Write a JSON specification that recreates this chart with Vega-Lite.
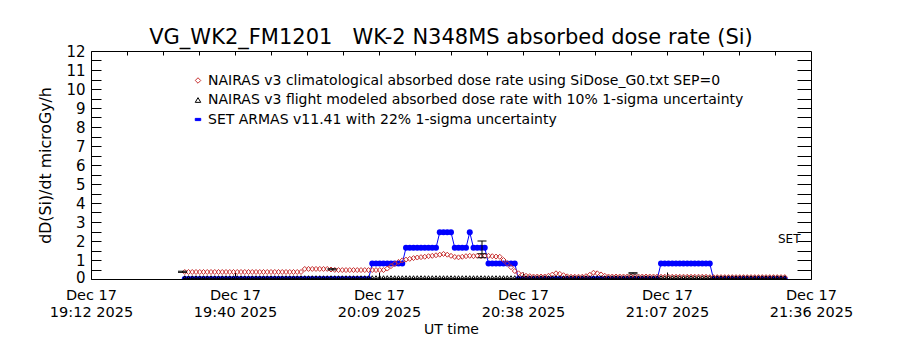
{
  "$schema": "https://vega.github.io/schema/vega-lite/v6.json",
  "width": 720,
  "height": 228,
  "autosize": {"type": "none"},
  "padding": {"left": 91, "top": 51, "right": 89, "bottom": 71},
  "background": "white",
  "config": {
    "font": "DejaVu Sans",
    "view": {"stroke": "black", "strokeWidth": 1},
    "axis": {"domain": false, "grid": false, "tickColor": "black", "tickWidth": 1, "labelColor": "black", "titleColor": "black", "titleFontWeight": "normal", "labelFont": "DejaVu Sans", "titleFont": "DejaVu Sans"}
  },
  "title": {"text": "VG_WK2_FM1201\u00a0\u00a0\u00a0WK-2 N348MS absorbed dose rate (Si)", "fontSize": 21, "fontWeight": "normal", "font": "DejaVu Sans", "color": "black", "offset": -4},
  "datasets": {
    "main": [
      {"t":"2025-12-17T19:30:45Z","c":0.37,"s":0,"f":0.1},
      {"t":"2025-12-17T19:31:30Z","c":0.37,"s":0,"f":0.1},
      {"t":"2025-12-17T19:32:15Z","c":0.37,"s":0,"f":0.1},
      {"t":"2025-12-17T19:33:00Z","c":0.37,"s":0,"f":0.1},
      {"t":"2025-12-17T19:33:45Z","c":0.37,"s":0,"f":0.1},
      {"t":"2025-12-17T19:34:30Z","c":0.37,"s":0,"f":0.1},
      {"t":"2025-12-17T19:35:15Z","c":0.37,"s":0,"f":0.1},
      {"t":"2025-12-17T19:36:00Z","c":0.37,"s":0,"f":0.1},
      {"t":"2025-12-17T19:36:45Z","c":0.37,"s":0,"f":0.1},
      {"t":"2025-12-17T19:37:30Z","c":0.37,"s":0,"f":0.1},
      {"t":"2025-12-17T19:38:15Z","c":0.37,"s":0,"f":0.1},
      {"t":"2025-12-17T19:39:00Z","c":0.37,"s":0,"f":0.1},
      {"t":"2025-12-17T19:39:45Z","c":0.37,"s":0,"f":0.1},
      {"t":"2025-12-17T19:40:30Z","c":0.37,"s":0,"f":0.1},
      {"t":"2025-12-17T19:41:15Z","c":0.37,"s":0,"f":0.1},
      {"t":"2025-12-17T19:42:00Z","c":0.37,"s":0,"f":0.1},
      {"t":"2025-12-17T19:42:45Z","c":0.37,"s":0,"f":0.1},
      {"t":"2025-12-17T19:43:30Z","c":0.37,"s":0,"f":0.1},
      {"t":"2025-12-17T19:44:15Z","c":0.37,"s":0,"f":0.1},
      {"t":"2025-12-17T19:45:00Z","c":0.37,"s":0,"f":0.1},
      {"t":"2025-12-17T19:45:45Z","c":0.37,"s":0,"f":0.1},
      {"t":"2025-12-17T19:46:30Z","c":0.37,"s":0,"f":0.1},
      {"t":"2025-12-17T19:47:15Z","c":0.37,"s":0,"f":0.1},
      {"t":"2025-12-17T19:48:00Z","c":0.37,"s":0,"f":0.1},
      {"t":"2025-12-17T19:48:45Z","c":0.37,"s":0,"f":0.1},
      {"t":"2025-12-17T19:49:30Z","c":0.37,"s":0,"f":0.1},
      {"t":"2025-12-17T19:50:15Z","c":0.37,"s":0,"f":0.1},
      {"t":"2025-12-17T19:51:00Z","c":0.37,"s":0,"f":0.1},
      {"t":"2025-12-17T19:51:45Z","c":0.37,"s":0,"f":0.1},
      {"t":"2025-12-17T19:52:30Z","c":0.37,"s":0,"f":0.1},
      {"t":"2025-12-17T19:53:15Z","c":0.37,"s":0,"f":0.1},
      {"t":"2025-12-17T19:54:00Z","c":0.37,"s":0,"f":0.1},
      {"t":"2025-12-17T19:54:45Z","c":0.53,"s":0,"f":0.1},
      {"t":"2025-12-17T19:55:30Z","c":0.53,"s":0,"f":0.1},
      {"t":"2025-12-17T19:56:15Z","c":0.53,"s":0,"f":0.1},
      {"t":"2025-12-17T19:57:00Z","c":0.53,"s":0,"f":0.1},
      {"t":"2025-12-17T19:57:45Z","c":0.53,"s":0,"f":0.1},
      {"t":"2025-12-17T19:58:30Z","c":0.53,"s":0,"f":0.1},
      {"t":"2025-12-17T19:59:15Z","c":0.53,"s":0,"f":0.1},
      {"t":"2025-12-17T20:00:00Z","c":0.5,"s":0,"f":0.1},
      {"t":"2025-12-17T20:00:45Z","c":0.48,"s":0,"f":0.1},
      {"t":"2025-12-17T20:01:30Z","c":0.47,"s":0,"f":0.1},
      {"t":"2025-12-17T20:02:15Z","c":0.47,"s":0,"f":0.1},
      {"t":"2025-12-17T20:03:00Z","c":0.47,"s":0,"f":0.1},
      {"t":"2025-12-17T20:03:45Z","c":0.47,"s":0,"f":0.1},
      {"t":"2025-12-17T20:04:30Z","c":0.47,"s":0,"f":0.1},
      {"t":"2025-12-17T20:05:15Z","c":0.47,"s":0,"f":0.1},
      {"t":"2025-12-17T20:06:00Z","c":0.47,"s":0,"f":0.1},
      {"t":"2025-12-17T20:06:45Z","c":0.47,"s":0,"f":0.1},
      {"t":"2025-12-17T20:07:30Z","c":0.47,"s":0,"f":0.1},
      {"t":"2025-12-17T20:08:15Z","c":0.47,"s":0.82,"f":0.1},
      {"t":"2025-12-17T20:09:00Z","c":0.47,"s":0.82,"f":0.1},
      {"t":"2025-12-17T20:09:45Z","c":0.47,"s":0.82,"f":0.1},
      {"t":"2025-12-17T20:10:30Z","c":0.47,"s":0.82,"f":0.1},
      {"t":"2025-12-17T20:11:15Z","c":0.55,"s":0.82,"f":0.1},
      {"t":"2025-12-17T20:12:00Z","c":0.68,"s":0.82,"f":0.1},
      {"t":"2025-12-17T20:12:45Z","c":0.8,"s":0.82,"f":0.1},
      {"t":"2025-12-17T20:13:30Z","c":0.9,"s":0.82,"f":0.1},
      {"t":"2025-12-17T20:14:15Z","c":0.98,"s":0.82,"f":0.1},
      {"t":"2025-12-17T20:15:00Z","c":1.02,"s":1.64,"f":0.1},
      {"t":"2025-12-17T20:15:45Z","c":1.06,"s":1.64,"f":0.1},
      {"t":"2025-12-17T20:16:30Z","c":1.1,"s":1.64,"f":0.1},
      {"t":"2025-12-17T20:17:15Z","c":1.13,"s":1.64,"f":0.1},
      {"t":"2025-12-17T20:18:00Z","c":1.15,"s":1.64,"f":0.1},
      {"t":"2025-12-17T20:18:45Z","c":1.17,"s":1.64,"f":0.1},
      {"t":"2025-12-17T20:19:30Z","c":1.2,"s":1.64,"f":0.1},
      {"t":"2025-12-17T20:20:15Z","c":1.22,"s":1.64,"f":0.1},
      {"t":"2025-12-17T20:21:00Z","c":1.25,"s":1.64,"f":0.1},
      {"t":"2025-12-17T20:21:45Z","c":1.28,"s":2.46,"f":0.1},
      {"t":"2025-12-17T20:22:30Z","c":1.32,"s":2.46,"f":0.1},
      {"t":"2025-12-17T20:23:15Z","c":1.28,"s":2.46,"f":0.1},
      {"t":"2025-12-17T20:24:00Z","c":1.22,"s":2.46,"f":0.1},
      {"t":"2025-12-17T20:24:45Z","c":1.16,"s":1.64,"f":0.1},
      {"t":"2025-12-17T20:25:30Z","c":1.14,"s":1.64,"f":0.1},
      {"t":"2025-12-17T20:26:15Z","c":1.17,"s":1.64,"f":0.1},
      {"t":"2025-12-17T20:27:00Z","c":1.2,"s":1.64,"f":0.1},
      {"t":"2025-12-17T20:27:45Z","c":1.22,"s":2.46,"f":0.1},
      {"t":"2025-12-17T20:28:30Z","c":1.2,"s":1.64,"f":0.1},
      {"t":"2025-12-17T20:29:15Z","c":1.22,"s":1.64,"f":0.1},
      {"t":"2025-12-17T20:30:00Z","c":1.2,"s":1.64,"f":0.1},
      {"t":"2025-12-17T20:30:45Z","c":1.22,"s":1.64,"f":0.1},
      {"t":"2025-12-17T20:31:30Z","c":1.22,"s":0.82,"f":0.1},
      {"t":"2025-12-17T20:32:15Z","c":1.2,"s":0.82,"f":0.1},
      {"t":"2025-12-17T20:33:00Z","c":1.18,"s":0.82,"f":0.1},
      {"t":"2025-12-17T20:33:45Z","c":1.17,"s":0.82,"f":0.1},
      {"t":"2025-12-17T20:34:30Z","c":1.0,"s":0.82,"f":0.1},
      {"t":"2025-12-17T20:35:15Z","c":0.82,"s":0.82,"f":0.1},
      {"t":"2025-12-17T20:36:00Z","c":0.62,"s":0.82,"f":0.1},
      {"t":"2025-12-17T20:36:45Z","c":0.42,"s":0.82,"f":0.1},
      {"t":"2025-12-17T20:37:30Z","c":0.3,"s":0,"f":0.1},
      {"t":"2025-12-17T20:38:15Z","c":0.22,"s":0,"f":0.1},
      {"t":"2025-12-17T20:39:00Z","c":0.17,"s":0,"f":0.1},
      {"t":"2025-12-17T20:39:45Z","c":0.15,"s":0,"f":0.1},
      {"t":"2025-12-17T20:40:30Z","c":0.13,"s":0,"f":0.1},
      {"t":"2025-12-17T20:41:15Z","c":0.13,"s":0,"f":0.1},
      {"t":"2025-12-17T20:42:00Z","c":0.13,"s":0,"f":0.1},
      {"t":"2025-12-17T20:42:45Z","c":0.13,"s":0,"f":0.1},
      {"t":"2025-12-17T20:43:30Z","c":0.17,"s":0,"f":0.1},
      {"t":"2025-12-17T20:44:15Z","c":0.23,"s":0,"f":0.1},
      {"t":"2025-12-17T20:45:00Z","c":0.3,"s":0,"f":0.1},
      {"t":"2025-12-17T20:45:45Z","c":0.27,"s":0,"f":0.1},
      {"t":"2025-12-17T20:46:30Z","c":0.2,"s":0,"f":0.1},
      {"t":"2025-12-17T20:47:15Z","c":0.14,"s":0,"f":0.1},
      {"t":"2025-12-17T20:48:00Z","c":0.12,"s":0,"f":0.1},
      {"t":"2025-12-17T20:48:45Z","c":0.12,"s":0,"f":0.1},
      {"t":"2025-12-17T20:49:30Z","c":0.12,"s":0,"f":0.1},
      {"t":"2025-12-17T20:50:15Z","c":0.12,"s":0,"f":0.1},
      {"t":"2025-12-17T20:51:00Z","c":0.15,"s":0,"f":0.1},
      {"t":"2025-12-17T20:51:45Z","c":0.22,"s":0,"f":0.1},
      {"t":"2025-12-17T20:52:30Z","c":0.33,"s":0,"f":0.1},
      {"t":"2025-12-17T20:53:15Z","c":0.3,"s":0,"f":0.1},
      {"t":"2025-12-17T20:54:00Z","c":0.24,"s":0,"f":0.1},
      {"t":"2025-12-17T20:54:45Z","c":0.17,"s":0,"f":0.1},
      {"t":"2025-12-17T20:55:30Z","c":0.13,"s":0,"f":0.1},
      {"t":"2025-12-17T20:56:15Z","c":0.13,"s":0,"f":0.1},
      {"t":"2025-12-17T20:57:00Z","c":0.13,"s":0,"f":0.1},
      {"t":"2025-12-17T20:57:45Z","c":0.13,"s":0,"f":0.1},
      {"t":"2025-12-17T20:58:30Z","c":0.13,"s":0,"f":0.1},
      {"t":"2025-12-17T20:59:15Z","c":0.13,"s":0,"f":0.1},
      {"t":"2025-12-17T21:00:00Z","c":0.13,"s":0,"f":0.1},
      {"t":"2025-12-17T21:00:45Z","c":0.13,"s":0,"f":0.1},
      {"t":"2025-12-17T21:01:30Z","c":0.13,"s":0,"f":0.1},
      {"t":"2025-12-17T21:02:15Z","c":0.13,"s":0,"f":0.1},
      {"t":"2025-12-17T21:03:00Z","c":0.13,"s":0,"f":0.1},
      {"t":"2025-12-17T21:03:45Z","c":0.13,"s":0,"f":0.1},
      {"t":"2025-12-17T21:04:30Z","c":0.13,"s":0,"f":0.1},
      {"t":"2025-12-17T21:05:15Z","c":0.13,"s":0,"f":0.1},
      {"t":"2025-12-17T21:06:00Z","c":0.12,"s":0.82,"f":0.1},
      {"t":"2025-12-17T21:06:45Z","c":0.12,"s":0.82,"f":0.1},
      {"t":"2025-12-17T21:07:30Z","c":0.12,"s":0.82,"f":0.1},
      {"t":"2025-12-17T21:08:15Z","c":0.12,"s":0.82,"f":0.1},
      {"t":"2025-12-17T21:09:00Z","c":0.12,"s":0.82,"f":0.1},
      {"t":"2025-12-17T21:09:45Z","c":0.12,"s":0.82,"f":0.1},
      {"t":"2025-12-17T21:10:30Z","c":0.12,"s":0.82,"f":0.1},
      {"t":"2025-12-17T21:11:15Z","c":0.12,"s":0.82,"f":0.1},
      {"t":"2025-12-17T21:12:00Z","c":0.12,"s":0.82,"f":0.1},
      {"t":"2025-12-17T21:12:45Z","c":0.12,"s":0.82,"f":0.1},
      {"t":"2025-12-17T21:13:30Z","c":0.12,"s":0.82,"f":0.1},
      {"t":"2025-12-17T21:14:15Z","c":0.12,"s":0.82,"f":0.1},
      {"t":"2025-12-17T21:15:00Z","c":0.12,"s":0.82,"f":0.1},
      {"t":"2025-12-17T21:15:45Z","c":0.1,"s":0.82,"f":0.1},
      {"t":"2025-12-17T21:16:30Z","c":0.1,"s":0,"f":0.1},
      {"t":"2025-12-17T21:17:15Z","c":0.1,"s":0,"f":0.1},
      {"t":"2025-12-17T21:18:00Z","c":0.1,"s":0,"f":0.1},
      {"t":"2025-12-17T21:18:45Z","c":0.1,"s":0,"f":0.1},
      {"t":"2025-12-17T21:19:30Z","c":0.1,"s":0,"f":0.1},
      {"t":"2025-12-17T21:20:15Z","c":0.1,"s":0,"f":0.1},
      {"t":"2025-12-17T21:21:00Z","c":0.1,"s":0,"f":0.1},
      {"t":"2025-12-17T21:21:45Z","c":0.1,"s":0,"f":0.1},
      {"t":"2025-12-17T21:22:30Z","c":0.1,"s":0,"f":0.1},
      {"t":"2025-12-17T21:23:15Z","c":0.1,"s":0,"f":0.1},
      {"t":"2025-12-17T21:24:00Z","c":0.1,"s":0,"f":0.1},
      {"t":"2025-12-17T21:24:45Z","c":0.1,"s":0,"f":0.1},
      {"t":"2025-12-17T21:25:30Z","c":0.1,"s":0,"f":0.1},
      {"t":"2025-12-17T21:26:15Z","c":0.1,"s":0,"f":0.1},
      {"t":"2025-12-17T21:27:00Z","c":0.1,"s":0,"f":0.1},
      {"t":"2025-12-17T21:27:45Z","c":0.1,"s":0,"f":0.1},
      {"t":"2025-12-17T21:28:30Z","c":0.1,"s":0,"f":0.1},
      {"t":"2025-12-17T21:29:15Z","c":0.1,"s":0,"f":0.1},
      {"t":"2025-12-17T21:30:00Z","c":0.1,"s":0,"f":0.1},
      {"t":"2025-12-17T21:30:45Z","c":0.1,"s":0,"f":0.1}
    ],
    "eb": [
      {"t":"2025-12-17T19:30:18Z","lo":0.35,"hi":0.41},
      {"t":"2025-12-17T20:00:12Z","lo":0.48,"hi":0.54},
      {"t":"2025-12-17T20:30:12Z","lo":1.12,"hi":2.0,"m":1.33},
      {"t":"2025-12-17T21:00:24Z","lo":0.27,"hi":0.33}
    ]
  },
  "layer": [
    {
      "data": {"name": "main"},
      "mark": {"type": "line", "strokeWidth": 1, "clip": true},
      "encoding": {
        "x": {"field": "t", "type": "temporal",
          "scale": {"type": "utc", "domain": [{"year":2025,"month":12,"date":17,"hours":19,"minutes":12,"utc":true},{"year":2025,"month":12,"date":17,"hours":21,"minutes":36,"utc":true}]},
          "axis": {"orient": "bottom", "title": null,
            "values": [
              {"year":2025,"month":12,"date":17,"hours":19,"minutes":12,"seconds":0,"utc":true},
              {"year":2025,"month":12,"date":17,"hours":19,"minutes":40,"seconds":48,"utc":true},
              {"year":2025,"month":12,"date":17,"hours":20,"minutes":9,"seconds":36,"utc":true},
              {"year":2025,"month":12,"date":17,"hours":20,"minutes":38,"seconds":24,"utc":true},
              {"year":2025,"month":12,"date":17,"hours":21,"minutes":7,"seconds":12,"utc":true},
              {"year":2025,"month":12,"date":17,"hours":21,"minutes":36,"seconds":0,"utc":true}
            ],
            "tickSize": -7, "labelPadding": 16, "labelFontSize": 14.5, "labelBaseline": "top",
            "labelFlush": false, "labelOverlap": false, "labelBound": false,
            "labelExpr": "utcFormat(datum.value, '%b %d')"}},
        "y": {"field": "s", "type": "quantitative",
          "scale": {"domain": [0, 12], "nice": false, "zero": false},
          "axis": {"orient": "left", "title": "dD(Si)/dt microGy/h", "titleFontSize": 15.8, "titlePadding": 12,
            "values": [0,0.5,1,1.5,2,2.5,3,3.5,4,4.5,5,5.5,6,6.5,7,7.5,8,8.5,9,9.5,10,10.5,11,11.5,12],
            "tickSize": -10, "labelPadding": 16, "labelFontSize": 15, "labelOverlap": false, "labelFlush": false,
            "labelOffset": {"condition": {"test": "datum.value == 0", "value": -2}, "value": 0},
            "labelExpr": "datum.value % 1 == 0 ? format(datum.value, 'd') : ''"}},
        "color": {"datum": "SET ARMAS v11.41 with 22% 1-sigma uncertainty",
          "scale": {"domain": ["NAIRAS v3 climatological absorbed dose rate using SiDose_G0.txt SEP=0", "NAIRAS v3 flight modeled absorbed dose rate with 10% 1-sigma uncertainty", "SET ARMAS v11.41 with 22% 1-sigma uncertainty"], "range": ["#c83232", "#000000", "#0000ff"]},
          "legend": {"orient": "none", "legendX": 100, "legendY": 22.5, "title": null, "padding": 0,
            "labelFont": "DejaVu Sans", "labelFontSize": 14, "labelColor": "black", "labelLimit": 1000, "labelOffset": 3,
            "symbolSize": 30, "symbolStrokeWidth": 1, "rowPadding": 5.5,
            "encode": {"symbols": {"update": {
              "shape": {"signal": "indexof(datum.value,'SET')==0 ? 'M-1,-0.4H1V0.4H-1Z' : (indexof(datum.value,'flight')>0 ? 'triangle-up' : 'diamond')"},
              "fill": {"signal": "indexof(datum.value,'SET')==0 ? '#0000ff' : 'transparent'"},
              "fillOpacity": {"signal": "indexof(datum.value,'SET')==0 ? 1 : 0"},
              "stroke": {"signal": "indexof(datum.value,'SET')==0 ? '#0000ff' : (indexof(datum.value,'flight')>0 ? '#000000' : '#c83232')"},
              "strokeWidth": {"value": 1}
            }}}}
        }
      }
    },
    {
      "data": {"name": "main"},
      "mark": {"type": "point", "filled": true, "shape": "circle", "size": 36, "opacity": 1, "clip": true},
      "encoding": {
        "x": {"field": "t", "type": "temporal",
          "axis": {"orient": "bottom", "title": "UT time", "titleFontSize": 14, "titlePadding": 4,
            "values": [
              {"year":2025,"month":12,"date":17,"hours":19,"minutes":12,"seconds":0,"utc":true},
              {"year":2025,"month":12,"date":17,"hours":19,"minutes":40,"seconds":48,"utc":true},
              {"year":2025,"month":12,"date":17,"hours":20,"minutes":9,"seconds":36,"utc":true},
              {"year":2025,"month":12,"date":17,"hours":20,"minutes":38,"seconds":24,"utc":true},
              {"year":2025,"month":12,"date":17,"hours":21,"minutes":7,"seconds":12,"utc":true},
              {"year":2025,"month":12,"date":17,"hours":21,"minutes":36,"seconds":0,"utc":true}
            ],
            "ticks": true, "tickSize": 0, "labelPadding": 26, "labelFontSize": 14.5, "labelBaseline": "top",
            "labelFlush": false, "labelOverlap": false, "labelBound": false,
            "labelExpr": "utcFormat(datum.value, '%H:%M %Y')"}},
        "y": {"field": "s", "type": "quantitative", "axis": null},
        "color": {"datum": "SET ARMAS v11.41 with 22% 1-sigma uncertainty"}
      }
    },
    {
      "data": {"name": "main"},
      "mark": {"type": "point", "filled": false, "shape": "diamond", "size": 25, "strokeWidth": 1, "opacity": 1, "clip": true},
      "encoding": {
        "x": {"field": "t", "type": "temporal", "axis": null},
        "y": {"field": "c", "type": "quantitative", "axis": null},
        "color": {"datum": "NAIRAS v3 climatological absorbed dose rate using SiDose_G0.txt SEP=0"}
      }
    },
    {
      "data": {"name": "main"},
      "mark": {"type": "point", "filled": false, "shape": "triangle-up", "size": 10, "strokeWidth": 1, "opacity": 1, "clip": true},
      "encoding": {
        "x": {"field": "t", "type": "temporal",
          "axis": {"orient": "top", "title": null, "labels": false, "tickSize": -4,
            "values": [
              {"year":2025,"month":12,"date":17,"hours":19,"minutes":19,"seconds":12,"utc":true},
              {"year":2025,"month":12,"date":17,"hours":19,"minutes":26,"seconds":24,"utc":true},
              {"year":2025,"month":12,"date":17,"hours":19,"minutes":33,"seconds":36,"utc":true},
              {"year":2025,"month":12,"date":17,"hours":19,"minutes":40,"seconds":48,"utc":true},
              {"year":2025,"month":12,"date":17,"hours":19,"minutes":48,"seconds":0,"utc":true},
              {"year":2025,"month":12,"date":17,"hours":19,"minutes":55,"seconds":12,"utc":true},
              {"year":2025,"month":12,"date":17,"hours":20,"minutes":2,"seconds":24,"utc":true},
              {"year":2025,"month":12,"date":17,"hours":20,"minutes":9,"seconds":36,"utc":true},
              {"year":2025,"month":12,"date":17,"hours":20,"minutes":16,"seconds":48,"utc":true},
              {"year":2025,"month":12,"date":17,"hours":20,"minutes":24,"seconds":0,"utc":true},
              {"year":2025,"month":12,"date":17,"hours":20,"minutes":31,"seconds":12,"utc":true},
              {"year":2025,"month":12,"date":17,"hours":20,"minutes":38,"seconds":24,"utc":true},
              {"year":2025,"month":12,"date":17,"hours":20,"minutes":45,"seconds":36,"utc":true},
              {"year":2025,"month":12,"date":17,"hours":20,"minutes":52,"seconds":48,"utc":true},
              {"year":2025,"month":12,"date":17,"hours":21,"minutes":0,"seconds":0,"utc":true},
              {"year":2025,"month":12,"date":17,"hours":21,"minutes":7,"seconds":12,"utc":true},
              {"year":2025,"month":12,"date":17,"hours":21,"minutes":14,"seconds":24,"utc":true},
              {"year":2025,"month":12,"date":17,"hours":21,"minutes":21,"seconds":36,"utc":true},
              {"year":2025,"month":12,"date":17,"hours":21,"minutes":28,"seconds":48,"utc":true}
            ]}},
        "y": {"field": "f", "type": "quantitative",
          "axis": {"orient": "right", "title": null, "tickSize": -14,
            "values": [0.5,1,1.5,2,2.5,3,3.5,4,4.5,5,5.5,6,6.5,7,7.5,8,8.5,9,9.5,10,10.5,11,11.5],
            "labelExpr": "datum.value == 2 ? 'SET' : ''", "labelAlign": "right", "labelPadding": 3,
            "labelFontSize": 12, "labelOffset": -3, "labelOverlap": false, "labelFlush": false}},
        "color": {"datum": "NAIRAS v3 flight modeled absorbed dose rate with 10% 1-sigma uncertainty"}
      }
    },
    {
      "data": {"name": "eb"},
      "mark": {"type": "rule", "color": "black", "strokeWidth": 1},
      "encoding": {
        "x": {"field": "t", "type": "temporal", "axis": null},
        "y": {"field": "lo", "type": "quantitative", "axis": null},
        "y2": {"field": "hi"}
      }
    },
    {
      "data": {"name": "eb"},
      "mark": {"type": "tick", "orient": "horizontal", "color": "black", "size": 9, "thickness": 1, "opacity": 1},
      "encoding": {
        "x": {"field": "t", "type": "temporal", "axis": null},
        "y": {"field": "lo", "type": "quantitative", "axis": null}
      }
    },
    {
      "data": {"name": "eb"},
      "mark": {"type": "tick", "orient": "horizontal", "color": "black", "size": 9, "thickness": 1, "opacity": 1},
      "encoding": {
        "x": {"field": "t", "type": "temporal", "axis": null},
        "y": {"field": "hi", "type": "quantitative", "axis": null}
      }
    },
    {
      "data": {"name": "eb"},
      "mark": {"type": "tick", "orient": "horizontal", "color": "black", "size": 9, "thickness": 1, "opacity": 1},
      "encoding": {
        "x": {"field": "t", "type": "temporal", "axis": null},
        "y": {"field": "m", "type": "quantitative", "axis": null}
      }
    }
  ],
  "resolve": {"axis": {"x": "independent", "y": "independent"}}
}
